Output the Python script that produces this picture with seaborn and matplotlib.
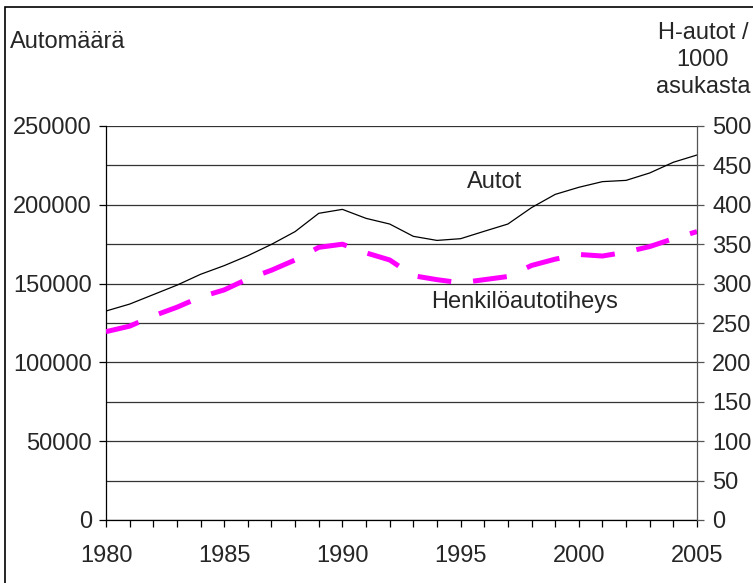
import numpy as np
import pandas as pd
import matplotlib
matplotlib.use("Agg")
import matplotlib.pyplot as plt
import matplotlib.ticker as mticker
import seaborn as sns

# data
years = list(range(1980, 2006))
autot = [132600, 137000, 143000, 149000, 155900, 161400, 167700, 174900,
         183000, 194600, 197100, 191400, 187800, 180000, 177400, 178500,
         183200, 187800, 198200, 206600, 211100, 214700, 215500, 220200,
         227000, 231600]
tiheys = [239, 246, 259, 270, 283, 292, 306, 317, 330, 346, 350, 339, 330,
          310, 305, 301, 305, 309, 323, 331, 337, 335, 340, 347, 357, 366]

left_ticks = [0, 50000, 100000, 150000, 200000, 250000]
right_ticks = list(range(0, 501, 50))
year_labels = [1980, 1985, 1990, 1995, 2000, 2005]

df = pd.DataFrame({"vuosi": years, "autot": autot, "tiheys": tiheys})

sns.set_style("white")
plt.rcParams["font.family"] = ["Liberation Sans", "DejaVu Sans"]
plt.rcParams["font.size"] = 17

fig = plt.figure(figsize=(7.53, 5.83), dpi=100)
ax = fig.add_axes([106 / 753, 1 - 520 / 583, 591 / 753, 394 / 583])

# grid lines every 25000
for g in range(0, 250001, 25000):
    ax.axhline(g, color="#333333", lw=0.9, zorder=0)

sns.lineplot(data=df, x="vuosi", y="autot", ax=ax, color="black", lw=0.9)
ax.set_xlim(1980, 2005)
ax.set_ylim(0, 250000)
ax.set_yticks(left_ticks)
ax.set_xticks(year_labels)
ax.xaxis.set_minor_locator(mticker.MultipleLocator(1))
ax.yaxis.set_major_formatter(mticker.FuncFormatter(lambda v, p: f"{int(v)}"))
ax.set_xlabel("")
ax.set_ylabel("")
ax.tick_params(axis="y", direction="out", length=5, width=0.9, pad=5,
               left=True, color="black")
ax.tick_params(axis="x", which="both", direction="out", length=5, width=0.9,
               bottom=True, color="black", pad=13)
for s in ["top", "right"]:
    ax.spines[s].set_visible(False)
for s in ["left", "bottom"]:
    ax.spines[s].set_color("black")
    ax.spines[s].set_linewidth(0.9)

ax2 = ax.twinx()
line = sns.lineplot(data=df, x="vuosi", y="tiheys", ax=ax2, color="#FF00FF",
                    lw=3.6)
ax2.lines[0].set_dashes((6.8, 4.4))
ax2.lines[0].set_dash_capstyle("butt")
ax2.set_ylim(0, 500)
ax2.set_yticks(right_ticks)
ax2.set_ylabel("")
ax2.tick_params(axis="y", direction="out", length=5, width=0.9, pad=6,
                right=True, color="#555555")
for s in ["top", "left", "bottom"]:
    ax2.spines[s].set_visible(False)
ax2.spines["right"].set_color("#555555")
ax2.spines["right"].set_linewidth(0.9)

ax.text(1996.45, 214500, "Autot", ha="center", va="center", fontsize=17)
ax.text(1997.7, 138300, "Henkilöautotiheys", ha="center", va="center",
        fontsize=17)

fig.text(10 / 753, 1 - 42 / 583, "Automäärä", ha="left", va="center",
         fontsize=17)
fig.text(703 / 753, 1 - 60 / 583, "H-autot /\n1000\nasukasta", ha="center",
         va="center", fontsize=17, linespacing=1.27)

# frame round the figure (left and top edges visible)
fig.patches.append(plt.Rectangle((5 / 753, -0.05), 1.1, 1 - 7 / 583 + 0.05,
                                 transform=fig.transFigure, fill=False,
                                 edgecolor="black", lw=1.2))

fig.savefig("out.png", dpi=100)
